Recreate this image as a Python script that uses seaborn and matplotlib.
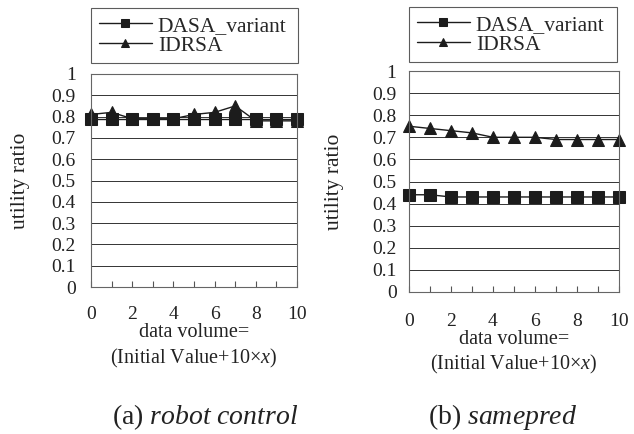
import matplotlib
matplotlib.use("Agg")
import matplotlib.pyplot as plt
import seaborn as sns
import pandas as pd
from matplotlib.ticker import MultipleLocator

x_vals = list(range(11))
robot_dasa = [0.79, 0.79, 0.79, 0.79, 0.79, 0.79, 0.79, 0.79, 0.79, 0.79, 0.79]
robot_idrsa = [0.81, 0.82, 0.79, 0.79, 0.79, 0.81, 0.82, 0.85, 0.78, 0.78, 0.78]
same_dasa = [0.44, 0.44, 0.43, 0.43, 0.43, 0.43, 0.43, 0.43, 0.43, 0.43, 0.43]
same_idrsa = [0.75, 0.74, 0.73, 0.72, 0.70, 0.70, 0.70, 0.69, 0.69, 0.69, 0.69]
series_names = ["DASA_variant", "IDRSA"]
y_ticks = [0, 0.1, 0.2, 0.3, 0.4, 0.5, 0.6, 0.7, 0.8, 0.9, 1]
y_tick_labels = ["0", "0.1", "0.2", "0.3", "0.4", "0.5", "0.6", "0.7", "0.8", "0.9", "1"]
x_ticks = [0, 2, 4, 6, 8, 10]

sns.set_theme(style="white")
plt.rcParams["font.family"] = ["Liberation Serif", "DejaVu Serif"]
plt.rcParams["mathtext.fontset"] = "custom"
plt.rcParams["mathtext.it"] = "Liberation Serif:italic"
plt.rcParams["mathtext.rm"] = "Liberation Serif"

fig = plt.figure(figsize=(6.34, 4.34), dpi=100)
W, H = 634, 434

def make_df(d, i):
    return pd.DataFrame({
        "x": x_vals * 2,
        "y": d + i,
        "series": [series_names[0]] * len(x_vals) + [series_names[1]] * len(x_vals),
    })

# (data, axes box px (x0, y0top, x1, y1bottom), xtick pad, ytick pad, legend box px, ylabel x px)
panels = [
    (make_df(robot_dasa, robot_idrsa), (91, 74, 297, 287), 14, 11, (91, 8, 298, 65), 30),
    (make_df(same_dasa, same_idrsa), (409, 71, 619, 292), 15, 9, (409, 7, 617, 63), 344),
]

ink = "#1c1c1c"
for df, box, xpad, ypad, lg, ylx in panels:
    bx0, by0, bx1, by1 = box
    ax = fig.add_axes([bx0 / W, 1 - by1 / H, (bx1 - bx0) / W, (by1 - by0) / H])
    sns.lineplot(data=df, x="x", y="y", hue="series", style="series",
                 markers={"DASA_variant": "s", "IDRSA": "^"}, dashes=False,
                 palette={"DASA_variant": ink, "IDRSA": ink},
                 markersize=8.5, linewidth=1.0, markeredgecolor=ink,
                 ax=ax, legend=True, hue_order=series_names, clip_on=False)
    ax.set_xlim(0, 10)
    ax.set_ylim(0, 1)
    ax.set_yticks(y_ticks)
    ax.set_yticklabels(y_tick_labels)
    ax.set_xticks(x_ticks)
    ax.xaxis.set_minor_locator(MultipleLocator(1))
    ax.tick_params(axis="y", length=0, labelsize=14, pad=ypad, labelcolor="#222222")
    ax.tick_params(axis="x", which="both", direction="in", length=4, width=0.8,
                   bottom=True, colors="#555555", labelsize=14, pad=xpad, labelcolor="#222222")
    for sp in ax.spines.values():
        sp.set_color("#666666")
        sp.set_linewidth(0.8)
    ax.grid(axis="y", color="#333333", linewidth=0.7)
    ax.grid(axis="x", visible=False)
    ax.set_ylabel("utility ratio", fontsize=15.5, color="#222222")
    ax.yaxis.set_label_coords((ylx - bx0) / (bx1 - bx0), 0.5)
    ax.set_xlabel("data volume=\n(Initial Value+10×$x$)", fontsize=14.5, color="#222222",
                  linespacing=1.25, labelpad=0)
    h, l = ax.get_legend_handles_labels()
    ax.get_legend().remove()
    x0, y0, x1, y1 = lg
    leg = fig.legend(h, l, loc="upper left",
                     bbox_to_anchor=(x0 / W, 1 - y1 / H, (x1 - x0) / W, (y1 - y0) / H),
                     mode="expand", frameon=True, fancybox=False, fontsize=15.5,
                     handlelength=2.5, handletextpad=0.25, borderpad=0.35, labelspacing=0.0,
                     borderaxespad=0, markerscale=0.75)
    leg.get_frame().set_edgecolor("#333333")
    leg.get_frame().set_linewidth(0.8)

fig.text(205 / W, 1 - 417 / H, "(a) $\\mathit{robot\\ control}$", ha="center", va="center",
         fontsize=20, color="#222222")
fig.text(503 / W, 1 - 417 / H, "(b) $\\mathit{samepred}$", ha="center", va="center",
         fontsize=20, color="#222222")

fig.savefig("out.png", dpi=100, facecolor="white")
